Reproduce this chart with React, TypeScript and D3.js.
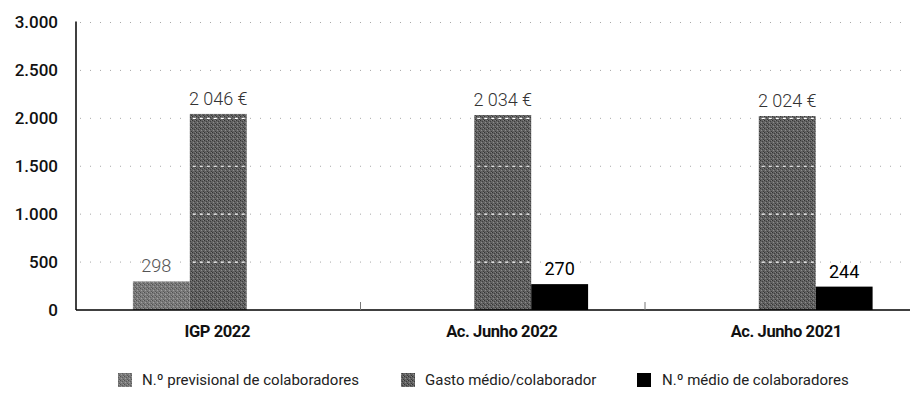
import React from "react";
import * as d3 from "d3";

const categories = ["IGP 2022", "Ac. Junho 2022", "Ac. Junho 2021"];
const seriesNames = [
  "N.º previsional de colaboradores",
  "Gasto médio/colaborador",
  "N.º médio de colaboradores",
];
const previsional: (number | null)[] = [298, null, null];
const gastoMedio: (number | null)[] = [2046, 2034, 2024];
const medioColab: (number | null)[] = [null, 270, 244];
const yTicks = [0, 500, 1000, 1500, 2000, 2500, 3000];

const W = 910;
const H = 396;
const left = 76;
const right = 929.5;
const top = 22.5;
const bottom = 310;

const ptLocale = d3.formatLocale({ decimal: ",", thousands: ".", grouping: [3], currency: ["", " €"] });
const euroLocale = d3.formatLocale({ decimal: ",", thousands: " ", grouping: [3], currency: ["", " €"] });
const fmtTick = ptLocale.format(",d");
const fmtEuro = (v: number) => euroLocale.format(",d")(v) + " €";
const fmtNum = (v: number) => euroLocale.format(",d")(v);

export default function App() {
  const x0 = d3.scaleBand<string>().domain(categories).range([left, right]).padding(0);
  const bw = x0.bandwidth();
  const x1 = d3
    .scaleBand<number>()
    .domain([0, 1, 2])
    .range([bw * 0.2, bw * 0.8])
    .padding(0);
  const y = d3.scaleLinear().domain([0, 3000]).range([bottom, top]);
  const series = [previsional, gastoMedio, medioColab];
  const fills = ["url(#pat1)", "url(#pat2)", "#000"];
  const legendX = [118, 401, 637];
  const legendTextX = [142, 425, 662];

  return (
    <svg width={W} height={H} style={{ position: "absolute", left: 0, top: 0, background: "#fff" }}>
      <defs>
        <pattern id="pat1" width="4" height="4" patternUnits="userSpaceOnUse">
          <rect width="4" height="4" fill="#7a7a7a" />
          <rect x="0" y="0" width="1" height="1" fill="#505050" />
          <rect x="2" y="1" width="1" height="1" fill="#5e5e5e" />
          <rect x="1" y="2" width="1" height="1" fill="#a0a0a0" />
          <rect x="3" y="3" width="1" height="1" fill="#5a5a5a" />
          <rect x="3" y="0" width="1" height="1" fill="#959595" />
        </pattern>
        <pattern id="pat2" width="4" height="4" patternUnits="userSpaceOnUse">
          <rect width="4" height="4" fill="#626262" />
          <rect x="0" y="0" width="1" height="1" fill="#333" />
          <rect x="2" y="1" width="1" height="1" fill="#3e3e3e" />
          <rect x="1" y="2" width="1" height="1" fill="#8c8c8c" />
          <rect x="3" y="3" width="1" height="1" fill="#3a3a3a" />
          <rect x="3" y="0" width="1" height="1" fill="#808080" />
        </pattern>
      </defs>

      {/* grid lines */}
      {yTicks
        .filter((t) => t > 0)
        .map((t) => (
          <line
            key={"g" + t}
            x1={left + 4}
            x2={W}
            y1={y(t)}
            y2={y(t)}
            stroke="#a8a8a8"
            strokeWidth={1}
            strokeDasharray="1,9"
          />
        ))}

      {/* bars */}
      {categories.map((c, ci) =>
        series.map((s, si) => {
          const v = s[ci];
          if (v == null) return null;
          const bx = (x0(c) as number) + (x1(si) as number);
          const bwid = x1.bandwidth();
          return (
            <g key={c + si}>
              <rect x={bx} y={y(v)} width={bwid} height={bottom - y(v)} fill={fills[si]} />
              {si === 1 &&
                yTicks
                  .filter((t) => t > 0 && t < v)
                  .map((t) => (
                    <line
                      key={"w" + t}
                      x1={bx + 3}
                      x2={bx + bwid - 2}
                      y1={y(t)}
                      y2={y(t)}
                      stroke="#fff"
                      strokeWidth={1.2}
                      strokeDasharray="3,4"
                    />
                  ))}
              <text
                x={bx + bwid / 2 + (si === 0 ? -5 : 0)}
                y={y(v) - 9}
                textAnchor="middle"
                fontFamily="Roboto, sans-serif"
                fontWeight={si === 2 ? 400 : 300}
                fontSize={18}
                fill={si === 2 ? "#000" : si === 0 ? "#555" : "#333"}
              >
                {si === 1 ? fmtEuro(v) : fmtNum(v)}
              </text>
            </g>
          );
        })
      )}

      {/* axes */}
      <line x1={left} x2={left} y1={top - 1} y2={bottom} stroke="#000" strokeWidth={1.5} />
      <line x1={left} x2={W} y1={bottom} y2={bottom} stroke="#000" strokeWidth={1.5} />
      {categories.slice(1).map((c) => (
        <line
          key={"t" + c}
          x1={x0(c) as number}
          x2={x0(c) as number}
          y1={bottom}
          y2={bottom - 8}
          stroke="#777"
          strokeWidth={1}
        />
      ))}

      {/* y tick labels */}
      {yTicks.map((t) => (
        <text
          key={"yl" + t}
          x={58}
          y={y(t)}
          dy="0.35em"
          textAnchor="end"
          fontFamily="Roboto, sans-serif"
          fontWeight={500}
          fontSize={17}
          fill="#111"
        >
          {fmtTick(t)}
        </text>
      ))}

      {/* x labels */}
      {categories.map((c) => (
        <text
          key={"xl" + c}
          x={(x0(c) as number) + bw / 2 - 1}
          y={331}
          dy="0.35em"
          textAnchor="middle"
          fontFamily="Roboto, sans-serif"
          fontWeight={700}
          fontSize={16.5}
          letterSpacing={-0.4}
          fill="#111"
        >
          {c}
        </text>
      ))}

      {/* legend */}
      {seriesNames.map((n, i) => (
        <g key={"lg" + i}>
          <rect x={legendX[i]} y={373} width={14} height={14} fill={fills[i]} />
          <text
            x={legendTextX[i]}
            y={380}
            dy="0.35em"
            fontFamily="Roboto, sans-serif"
            fontWeight={400}
            fontSize={15}
            fill="#222"
          >
            {n}
          </text>
        </g>
      ))}
    </svg>
  );
}
